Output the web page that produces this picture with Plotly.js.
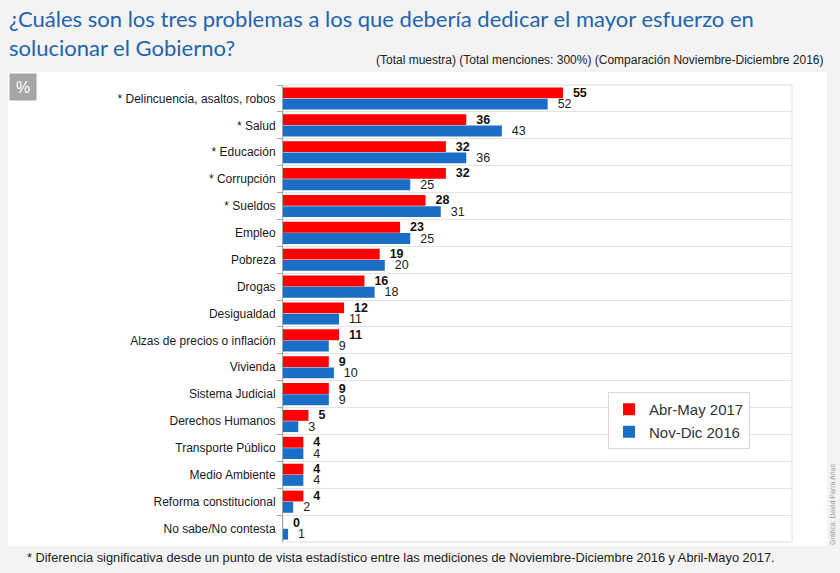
<!DOCTYPE html>
<html>
<head>
<meta charset="utf-8">
<script src="https://cdn.plot.ly/plotly-3.0.1.min.js"></script>
<style>html,body{margin:0;padding:0;background:#f3f3f3;}#chart{width:840px;height:573px;}</style>
</head>
<body>
<div id="chart"></div>
<script>
var categories = ["* Delincuencia, asaltos, robos", "* Salud", "* Educación", "* Corrupción", "* Sueldos", "Empleo", "Pobreza", "Drogas", "Desigualdad", "Alzas de precios o inflación", "Vivienda", "Sistema Judicial", "Derechos Humanos", "Transporte Público", "Medio Ambiente", "Reforma constitucional", "No sabe/No contesta"];
var abrMay2017 = [55, 36, 32, 32, 28, 23, 19, 16, 12, 11, 9, 9, 5, 4, 4, 4, 0];
var novDic2016 = [52, 43, 36, 25, 31, 25, 20, 18, 11, 9, 10, 9, 3, 4, 4, 2, 1];
var seriesNames = ["Abr-May 2017", "Nov-Dic 2016"];

var RED = "#ff0000", BLUE = "#1b6ec6";
var font = "Liberation Sans, Arial, sans-serif";
var NB = "\u00a0\u00a0";

var traces = [
  {type: "bar", orientation: "h", name: seriesNames[0], y: categories, x: abrMay2017,
   marker: {color: RED}, text: abrMay2017.map(function(v){return NB + "<b>" + v + "</b>";}),
   textposition: "outside", constraintext: "none", cliponaxis: false,
   textfont: {family: font, size: 12.5, color: "#111"}, legendgroup: "a", hoverinfo: "x"},
  {type: "bar", orientation: "h", name: seriesNames[1], y: categories, x: novDic2016,
   marker: {color: BLUE}, text: novDic2016.map(function(v){return NB + v;}),
   textposition: "outside", constraintext: "none", cliponaxis: false,
   textfont: {family: font, size: 12.5, color: "#222"}, legendgroup: "b", hoverinfo: "x"}
];

var W = 509, H = 457, L = 283, T = 85;
function px(x){ return (x - L) / W; }
function py(y){ return (T + H - y) / H; }

var layout = {
  width: 840, height: 573,
  margin: {l: L, r: 840 - L - W, t: T, b: 573 - T - H, pad: 0},
  paper_bgcolor: "#f3f3f3", plot_bgcolor: "#ffffff",
  barmode: "group", bargap: 0.16, bargroupgap: 0.04,
  showlegend: true,
  legend: {x: px(608), y: py(392), xanchor: "left", yanchor: "top",
           bgcolor: "#ffffff", bordercolor: "#d9d9d9", borderwidth: 1,
           font: {family: font, size: 15, color: "#333"}, traceorder: "normal",
           tracegroupgap: 13, itemwidth: 30},
  xaxis: {range: [0, 100], showticklabels: false, showgrid: false, zeroline: false,
          showline: false, ticks: "", fixedrange: true},
  yaxis: {autorange: "reversed", type: "category", tickson: "boundaries",
          showgrid: true, gridcolor: "#e3e3e3", gridwidth: 1,
          showline: true, linecolor: "#a6a6a6", linewidth: 1,
          ticks: "outside", ticklen: 5, tickcolor: "#a6a6a6",
          tickfont: {family: font, size: 12, color: "#1a1a1a"}, ticklabelstandoff: 4,
          fixedrange: true},
  shapes: [
    {type: "rect", xref: "paper", yref: "paper", x0: px(8), x1: px(827), y0: py(546), y1: py(72),
     fillcolor: "#ffffff", line: {width: 0}, layer: "below"},
    {type: "rect", xref: "paper", yref: "paper", x0: 0, x1: 1, y0: 0, y1: 1,
     fillcolor: "rgba(0,0,0,0)", line: {width: 1, color: "#dedede"}, layer: "below"}
  ],
  annotations: [
    {text: "¿Cuáles son los tres problemas a los que debería dedicar el mayor esfuerzo en<br>solucionar el Gobierno?",
     xref: "paper", yref: "paper", x: px(7), y: py(3), xanchor: "left", yanchor: "top", align: "left",
     showarrow: false, font: {family: "Lato, sans-serif", size: 22, color: "#2264ad"}},
    {text: "(Total muestra) (Total menciones: 300%) (Comparación Noviembre-Diciembre 2016)",
     xref: "paper", yref: "paper", x: px(826), y: py(60), xanchor: "right", yanchor: "middle",
     showarrow: false, font: {family: font, size: 12, color: "#222"}},
    {text: "%", xref: "paper", yref: "paper", x: px(23), y: py(87), xanchor: "center", yanchor: "middle",
     showarrow: false, bgcolor: "#a6a6a6", width: 24, height: 24, borderpad: 1,
     font: {family: font, size: 16, color: "#ffffff"}},
    {text: "* Diferencia significativa desde un punto de vista estadístico entre las mediciones de Noviembre-Diciembre 2016 y Abril-Mayo 2017.",
     xref: "paper", yref: "paper", x: px(25), y: py(557), xanchor: "left", yanchor: "middle",
     showarrow: false, font: {family: font, size: 12.8, color: "#222"}},
    {text: "Gráfica: David Parra Arias", xref: "paper", yref: "paper", x: px(832), y: py(505),
     xanchor: "center", yanchor: "middle", textangle: -90, showarrow: false,
     font: {family: font, size: 7, color: "#9a9a9a"}}
  ]
};

Plotly.newPlot("chart", traces, layout, {displayModeBar: false, staticPlot: true});
</script>
</body>
</html>
